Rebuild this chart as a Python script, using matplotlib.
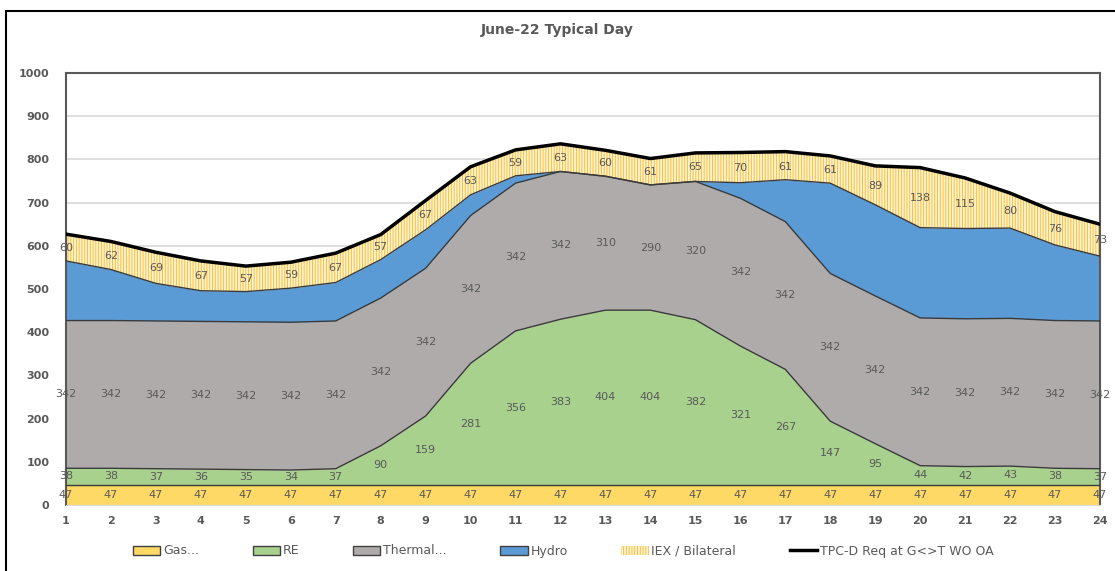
import numpy as np
import matplotlib.pyplot as plt
from matplotlib.patches import Patch, Rectangle
from matplotlib.lines import Line2D

plt.rcParams.update({
    "font.family": "DejaVu Sans",
    "hatch.linewidth": 0.7,
})

hours = np.arange(1, 25)
gas = [47] * 24
re = [38, 38, 37, 36, 35, 34, 37, 90, 159, 281, 356, 383,
      404, 404, 382, 321, 267, 147, 95, 44, 42, 43, 38, 37]
thermal = [342] * 12 + [310, 290, 320] + [342] * 9
hydro = [138, 118, 87, 71, 70, 79, 89, 89, 89, 48, 17, 0,
         0, 0, 0, 36, 97, 209, 211, 209, 209, 209, 175, 150]
iex = [60, 62, 69, 67, 57, 59, 67, 57, 67, 63, 59, 63,
       60, 61, 65, 70, 61, 61, 89, 138, 115, 80, 76, 73]
tpcd = [627, 610, 585, 565, 553, 562, 583, 626, 705, 783, 822, 836,
        821, 802, 815, 816, 818, 808, 785, 781, 757, 722, 679, 650]

c_gas = "#FFD966"
c_re = "#A9D18E"
c_th = "#AFABAB"
c_hy = "#5B9BD5"
c_iex_bg = "#FFF3CF"
c_iex_h = "#F5C040"
txt = "#595959"

fig = plt.figure(figsize=(11.15, 5.71), dpi=100)
ax = fig.add_axes([66 / 1115, 1 - 505 / 571, 1034 / 1115, 432 / 571])

series = [gas, re, thermal, hydro, iex]
cols = [c_gas, c_re, c_th, c_hy, c_iex_bg]
base = np.zeros(24)
tops = []
for i, s in enumerate(series):
    s = np.array(s, dtype=float)
    top = base + s
    if i == 4:
        ax.fill_between(hours, base, top, facecolor=c_iex_bg, edgecolor=c_iex_h,
                        hatch="||||||", linewidth=0, zorder=2)
    else:
        ax.fill_between(hours, base, top, color=cols[i], linewidth=0, zorder=2)
    tops.append(top)
    # data labels (hydro has none)
    if i != 3:
        for h, b, t, v in zip(hours, base, top, s):
            ax.text(h, (b + t) / 2, f"{int(v)}", ha="center", va="center",
                    fontsize=8, color=txt, zorder=6, clip_on=False)
    base = top

# edge lines between areas
for k in range(4):
    ax.plot(hours, tops[k], color="#3A3A3A", lw=1.0, zorder=4)

ax.plot(hours, tpcd, color="black", lw=2.5, zorder=5)

ax.set_xlim(1, 24)
ax.set_ylim(0, 1000)
ax.set_xticks(hours)
ax.set_yticks(range(0, 1001, 100))
ax.tick_params(length=0, labelsize=8, labelcolor=txt, pad=8)
ax.tick_params(axis="y", pad=12)
for lab in ax.get_xticklabels() + ax.get_yticklabels():
    lab.set_fontweight("bold")
ax.grid(axis="y", color="#D9D9D9", lw=1.2, zorder=0)
for sp in ["left", "top", "right"]:
    ax.spines[sp].set_color("#595959")
    ax.spines[sp].set_linewidth(1.5)
ax.spines["bottom"].set_color("#D9D9D9")

fig.text(0.5, 1 - 30 / 571, "June-22 Typical Day", ha="center", va="center",
         fontsize=10, fontweight="bold", color=txt)

# outer chart border
fig.patches.append(Rectangle((6 / 1115, -0.1), 1.2, 1.1 - 11 / 571, transform=fig.transFigure,
                             fill=False, edgecolor="black", lw=1.5))

handles = [
    Patch(facecolor=c_gas, edgecolor="#404040", label="Gas..."),
    Patch(facecolor=c_re, edgecolor="#404040", label="RE"),
    Patch(facecolor=c_th, edgecolor="#404040", label="Thermal..."),
    Patch(facecolor=c_hy, edgecolor="#404040", label="Hydro"),
    Patch(facecolor=c_iex_bg, edgecolor=c_iex_h, hatch="||||||", lw=0, label="IEX / Bilateral"),
    Line2D([0], [0], color="black", lw=2.5, label="TPC-D Req at G<>T WO OA"),
]
leg = fig.legend(handles=handles, loc="center", bbox_to_anchor=(0.505, 1 - 551 / 571),
                 ncol=6, frameon=False, columnspacing=4.3, handlelength=2.2,
                 handletextpad=0.2, prop={"size": 9})
for t in leg.get_texts():
    t.set_color(txt)

plt.savefig("out.png", dpi=100)
